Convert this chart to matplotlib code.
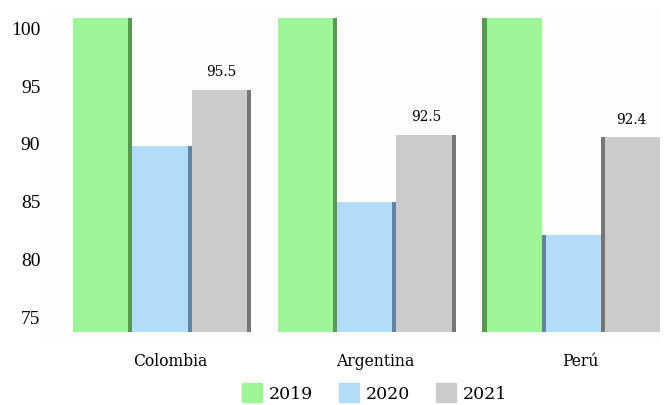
import numpy as np
import matplotlib.pyplot as plt

countries = ["Colombia", "Argentina", "Perú"]
years = ["2019", "2020", "2021"]
v2019 = [100.8, 100.8, 100.8]
v2020 = [89.7, 84.9, 82.0]
v2021 = [94.6, 90.7, 90.5]
labels2021 = ["95.5", "92.5", "92.4"]

colors = ["#9ef597", "#b3dcfa", "#cbcbcb"]
shades = ["#3f7a3c", "#4a6585", "#5a5a5a"]
base = 73.6

fig = plt.figure(figsize=(6.65, 4.06), dpi=100)
ax = fig.add_axes([0.071, 0.148, 0.921, 0.827])
ax.set_facecolor("#fdfdfb")

x = np.arange(len(countries))
w = 0.29
sw = 0.02
series = [v2019, v2020, v2021]
for i, vals in enumerate(series):
    h = np.array(vals) - base
    pos = x + (i - 1) * w
    ax.bar(pos, h, w, bottom=base, color=colors[i], label=years[i], zorder=2)
    # darker side edge to fake the 3d look (right side, left for the last group)
    side = np.where(x < 2, pos + w / 2 - sw / 2, pos - w / 2 + sw / 2)
    ax.bar(side, h, sw, bottom=base, color=shades[i], alpha=0.75, zorder=3)

for xi, v, lab in zip(x + w, v2021, labels2021):
    ax.text(xi, v + 1.0, lab, ha="center", va="bottom", fontsize=11,
            family="DejaVu Serif", fontstretch="condensed")

ax.set_xlim(-0.56, 2.43)
ax.set_ylim(72.5, 101.6)
ax.set_yticks([75, 80, 85, 90, 95, 100])
ax.set_yticklabels(["75", "80", "85", "90", "95", "100"], family="Liberation Serif", fontsize=14)
ax.set_xticks(x + 0.04)
ax.set_xticklabels(countries, family="DejaVu Serif", fontstretch="condensed", fontsize=12.5)
ax.tick_params(length=0, pad=5)
for s in ax.spines.values():
    s.set_visible(False)

handles = [plt.Rectangle((0, 0), 1, 1, color=c) for c in colors]
leg = fig.legend(handles, years, loc="center", bbox_to_anchor=(0.563, 0.03), ncol=3,
                 frameon=False, handlelength=1.15, handleheight=1.3, columnspacing=1.5,
                 handletextpad=0.4, borderpad=0, borderaxespad=0,
                 prop={"family": "DejaVu Serif", "size": 12.5})

fig.savefig("out.png", dpi=100)
